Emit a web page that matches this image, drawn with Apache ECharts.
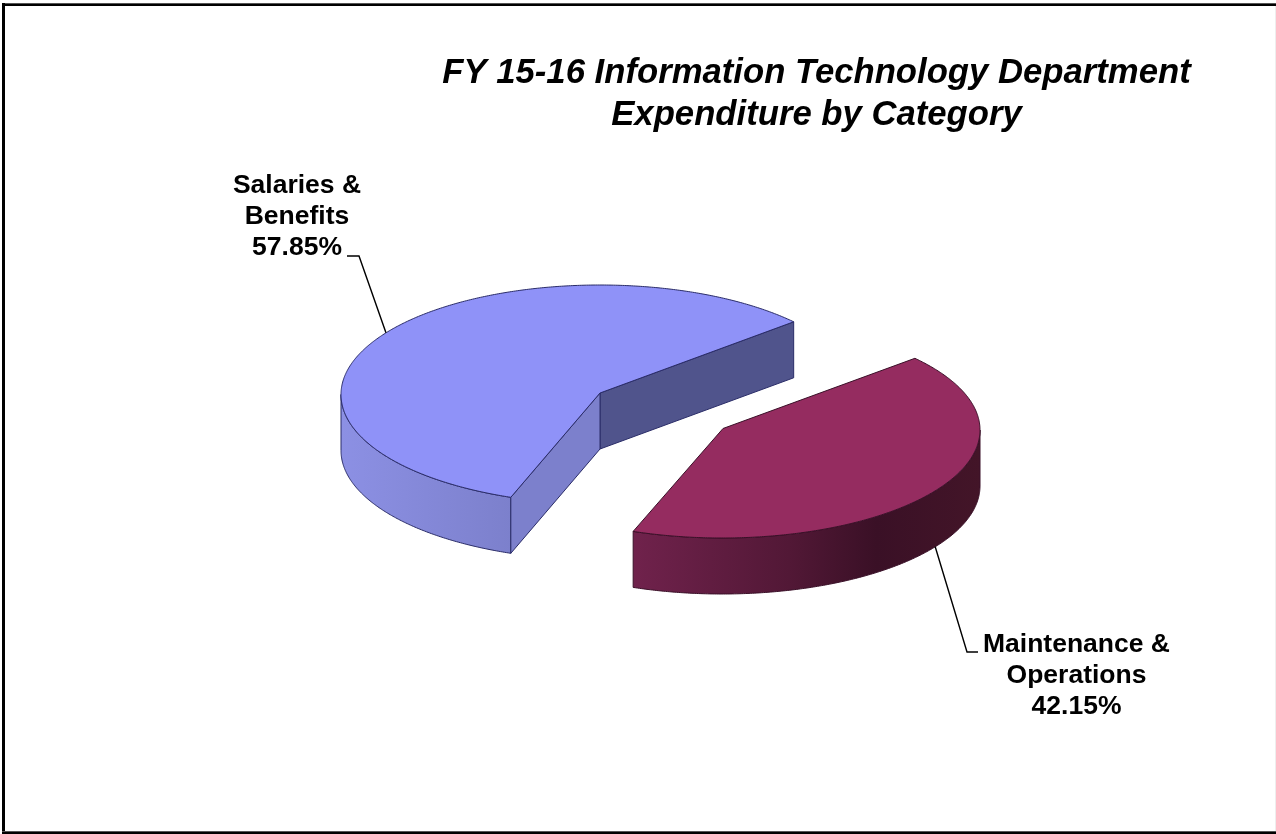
<!DOCTYPE html>
<html>
<head>
<meta charset="utf-8">
<style>html,body{margin:0;padding:0;background:#fff}#c{width:1276px;height:834px}</style>
<script src="https://cdn.jsdelivr.net/npm/echarts@6/dist/echarts.min.js"></script>
</head>
<body>
<div id="c"></div>
<script>
const categories = ['Salaries &\nBenefits', 'Maintenance &\nOperations'];
const shares = [57.85, 42.15];
const titleText = 'FY 15-16 Information Technology Department\nExpenditure by Category';

// Layout and style only
const startDeg = 41.6, depth = 56;
const centers = [[600, 394.5], [722, 430]];
const apexes = [[600, 393], [723, 428.5]];
const radii = [[259, 109.5], [258, 108]];
const labelPos = [[297, 217], [1076.5, 675.5]];
const elbows = [[[359, 256], [347, 256]], [[967, 652], [978, 652]]];
const tops = ['#8f92f8', '#952c60'];
const strokes = ['#2a2c68', '#3a1028'];
const walls = [
  [[0, '#8c90e4'], [1, '#7c80cc']],
  [[0, '#70224c'], [0.45, '#521836'], [0.7, '#3a1026'], [1, '#431528']]
];
const faces = ['#7c80cc', '#50548c'];

const total = shares.reduce((a, b) => a + b, 0);
const rad = d => d * Math.PI / 180;

function renderItem(params, api) {
  const i = params.dataIndex;
  const before = shares.slice(0, i).reduce((a, b) => a + b, 0);
  const a0 = startDeg + before / total * 360;
  const a1 = a0 + api.value(0) / total * 360;
  const [cx, cy] = centers[i];
  const [rx, ry] = radii[i];
  const pt = (deg, dy) => [cx + rx * Math.cos(rad(deg)), cy - ry * Math.sin(rad(deg)) + (dy || 0)];
  const arc = (from, to, dy) => {
    const out = [], n = Math.ceil(Math.abs(to - from) * 2);
    for (let k = 0; k <= n; k++) out.push(pt(from + (to - from) * k / n, dy));
    return out;
  };
  const edge = { stroke: strokes[i], lineWidth: 1 };
  const children = [];
  const apex = apexes[i], apexLow = [apex[0], apex[1] + depth];

  // visible outer wall: the part of the rim facing the viewer
  const wallFrom = Math.max(a0, 180), wallTo = Math.min(a1, 360);
  if (wallTo > wallFrom) {
    children.push({
      type: 'polygon',
      shape: { points: arc(wallFrom, wallTo, 0).concat(arc(wallTo, wallFrom, depth)) },
      style: Object.assign({
        fill: {
          type: 'linear', x: 0, y: 0, x2: 1, y2: 0,
          colorStops: walls[i].map(s => ({ offset: s[0], color: s[1] }))
        }
      }, edge)
    });
  }
  // cut faces that look toward the viewer
  if (i === 0) {
    children.push({
      type: 'polygon',
      shape: { points: [apex, pt(a0), pt(a0, depth), apexLow] },
      style: Object.assign({ fill: faces[1] }, edge)
    });
    children.push({
      type: 'polygon',
      shape: { points: [apex, pt(a1), pt(a1, depth), apexLow] },
      style: Object.assign({ fill: faces[0] }, edge)
    });
  }
  // top surface
  children.push({
    type: 'polygon',
    shape: { points: [apex].concat(arc(a0, a1, 0)) },
    style: Object.assign({ fill: tops[i] }, edge)
  });
  // leader line, starting from the slice's mid angle
  const mid = (a0 + a1) / 2;
  const start = pt(mid, Math.sin(rad(mid)) < 0 ? depth : 0);
  children.push({
    type: 'polyline',
    shape: { points: [start].concat(elbows[i]) },
    style: { stroke: '#000', lineWidth: 1.4, fill: 'none' }
  });
  // label
  children.push({
    type: 'text',
    style: {
      text: categories[i] + '\n' + api.value(0).toFixed(2) + '%',
      x: labelPos[i][0], y: labelPos[i][1],
      align: 'center', verticalAlign: 'middle',
      fill: '#000', lineHeight: 31,
      font: 'bold 26.5px "Liberation Sans", Arial, sans-serif'
    }
  });
  return { type: 'group', children };
}

const bar = (x, y, width, height, fill) => ({
  type: 'rect', z: -1, silent: true,
  shape: { x, y, width, height },
  style: { fill }
});

const chart = echarts.init(document.getElementById('c'), null, { renderer: 'canvas' });
chart.setOption({
  animation: false,
  backgroundColor: '#fff',
  title: {
    text: titleText,
    left: 811.5, top: 47, textAlign: 'center',
    textStyle: {
      fontFamily: '"Liberation Sans", Arial, sans-serif',
      fontStyle: 'italic', fontWeight: 'bold', fontSize: 34.7, lineHeight: 42, color: '#000'
    }
  },
  graphic: [
    bar(2, 3, 1274, 1, '#555'),
    bar(2, 4, 1274, 2, '#000'),
    bar(2, 3, 3, 831, '#000'),
    bar(2, 831, 1274, 1, '#555'),
    bar(2, 832, 1274, 2, '#000'),
    bar(1275, 6, 1, 825, '#eee')
  ],
  series: [{
    type: 'custom',
    coordinateSystem: 'none',
    silent: true,
    clip: false,
    renderItem,
    data: shares.map((v, i) => ({ name: categories[i], value: [v] }))
  }]
});
</script>
</body>
</html>
